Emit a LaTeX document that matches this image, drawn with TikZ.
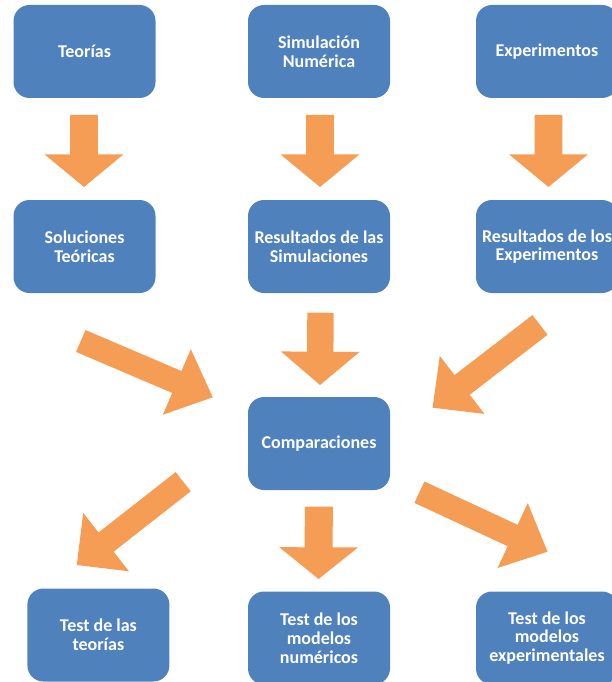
\documentclass[tikz,border=0pt]{standalone}
\usepackage{fontspec}
\setmainfont{Carlito}
\usetikzlibrary{calc}

\definecolor{boxblue}{HTML}{4F81BD}
\definecolor{arroworange}{HTML}{F59C55}

% Block arrow from tail centre #1 to tip #2:
% #3 = half shaft width, #4 = half head width, #5 = head length
\newcommand{\blockarr}[5]{%
  \coordinate (#1-base) at ($(#2)!#5!(#1)$);
  \fill[arrowfill]
    ($(#1)!#3!90:(#2)$) -- ($(#1-base)!#3!-90:(#1)$) --
    ($(#1-base)!#4!-90:(#1)$) -- (#2) --
    ($(#1-base)!#4!90:(#1)$) -- ($(#1-base)!#3!90:(#1)$) --
    ($(#1)!#3!-90:(#2)$) -- cycle;}

\begin{document}
\begin{tikzpicture}[x=1pt,y=-1pt,
  box/.style={rounded corners=16pt, fill=boxblue, text=white,
    minimum width=142pt, minimum height=93pt, inner sep=0pt,
    align=center, font=\fontsize{18}{18.8}\selectfont\bfseries},
  arrowfill/.style={fill=arroworange}]
\useasboundingbox (0,0) rectangle (611,682);

% boxes
\node[box] (teo)  at (84.5,51.5)  {Teorías};
\node[box] (sim)  at (319,51.5)   {Simulación\\Numérica};
\node[box] (exp)  at (547,51.5)   {Experimentos};
\node[box] (sol)  at (84.5,246.5) {Soluciones\\Teóricas};
\node[box] (rsim) at (319,246.5)  {Resultados de las\\Simulaciones};
\node[box] (rexp) at (547,246.5)  {Resultados de los\\Experimentos};
\node[box] (comp) at (319,443.5)  {Comparaciones};
\node[box] (tteo) at (98.4,635)   {Test de las\\teorías};
\node[box] (tnum) at (319,638)    {Test de los\\modelos\\numéricos};
\node[box] (texp) at (547,638)    {Test de los\\modelos\\experimentales};

% arrow end points
\coordinate (a1) at (84,115);    \coordinate (a1t) at (84,187);
\coordinate (a2) at (320,115);   \coordinate (a2t) at (320,187);
\coordinate (a3) at (548.5,115); \coordinate (a3t) at (548.5,187);
\coordinate (b1) at (80.8,341);  \coordinate (b1t) at (212.8,397.3);
\coordinate (b2) at (320.5,312.7); \coordinate (b2t) at (320,385);
\coordinate (b3) at (540,324.9); \coordinate (b3t) at (432.6,407.7);
\coordinate (c1) at (183.2,481.7); \coordinate (c1t) at (76.8,565);
\coordinate (c2) at (318.8,506.7); \coordinate (c2t) at (318.6,579);
\coordinate (c3) at (419.4,492.2); \coordinate (c3t) at (547.5,551.7);

% arrows
\blockarr{a1}{a1t}{13.8pt}{39.5pt}{32.7pt}
\blockarr{a2}{a2t}{13.8pt}{39.5pt}{32.7pt}
\blockarr{a3}{a3t}{13.8pt}{39.5pt}{32.7pt}
\blockarr{b1}{b1t}{11.9pt}{35.6pt}{39.1pt}
\blockarr{b2}{b2t}{13.2pt}{39.3pt}{33.3pt}
\blockarr{b3}{b3t}{12.4pt}{36.6pt}{37.3pt}
\blockarr{c1}{c1t}{12.2pt}{37.1pt}{37.2pt}
\blockarr{c2}{c2t}{14pt}{39.4pt}{31.7pt}
\blockarr{c3}{c3t}{11.8pt}{35.8pt}{38.4pt}
\end{tikzpicture}
\end{document}
